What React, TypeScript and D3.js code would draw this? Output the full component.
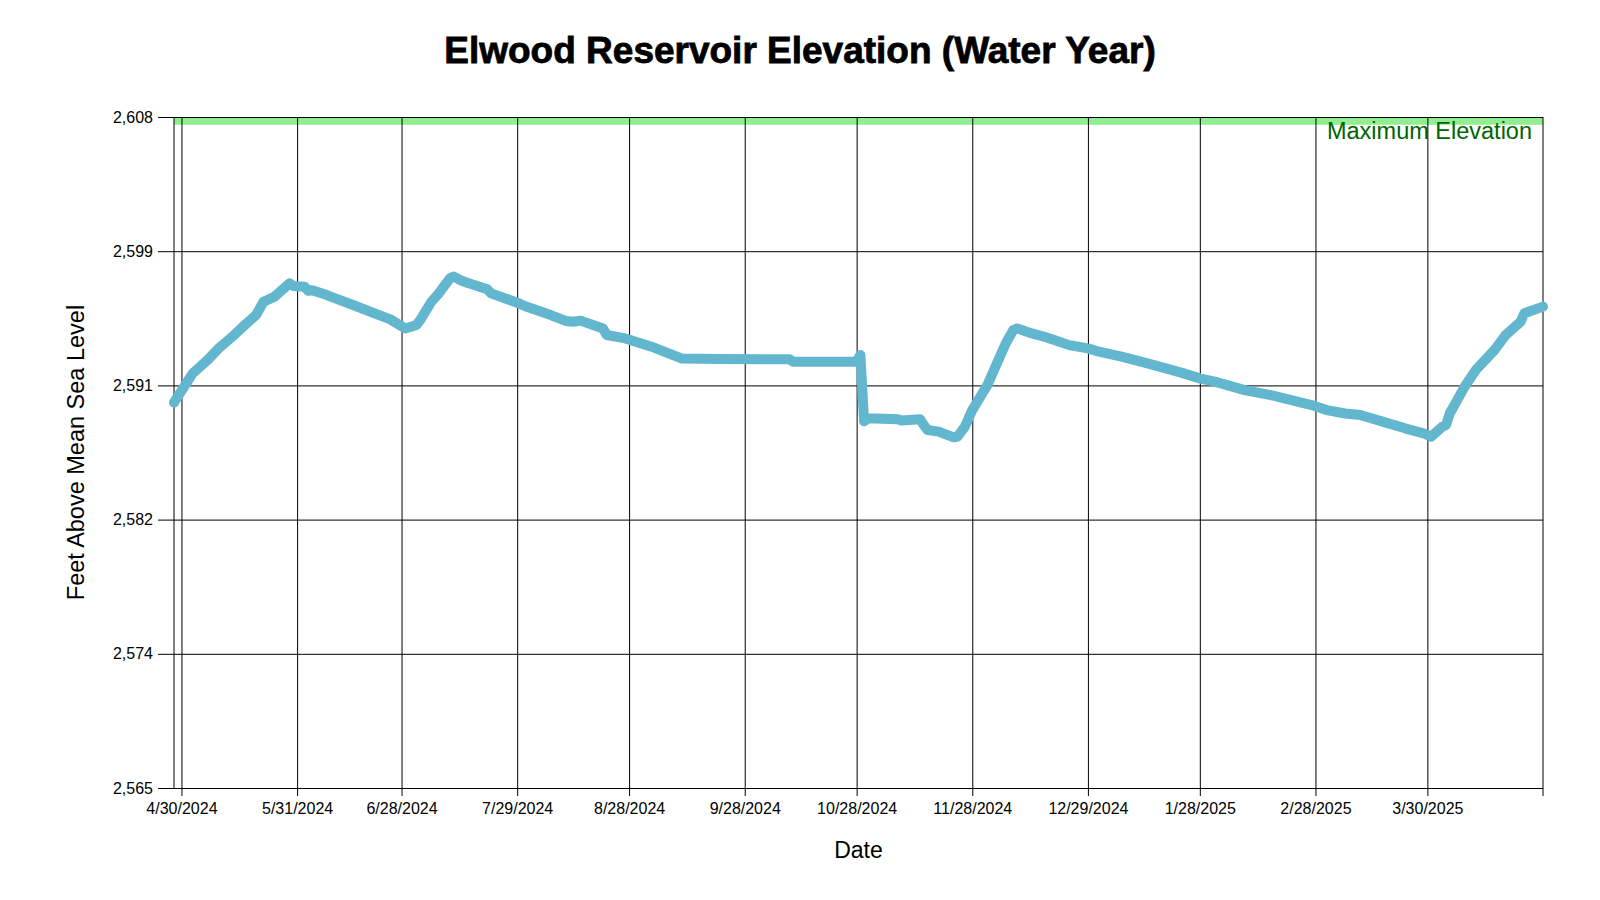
import React, { useEffect, useRef } from 'react'
import * as d3 from 'd3'

// daily reservoir readings (feet above mean sea level)
const dates = [
  '2024-04-28', '2024-05-03', '2024-05-07', '2024-05-10', '2024-05-14', '2024-05-17',
  '2024-05-20', '2024-05-22', '2024-05-25', '2024-05-29', '2024-05-30', '2024-06-02',
  '2024-06-03', '2024-06-04', '2024-06-08', '2024-06-09', '2024-06-15', '2024-06-22',
  '2024-06-25', '2024-06-29', '2024-07-02', '2024-07-03', '2024-07-06', '2024-07-08',
  '2024-07-11', '2024-07-12', '2024-07-14', '2024-07-16', '2024-07-21', '2024-07-22',
  '2024-07-29', '2024-07-31', '2024-08-07', '2024-08-11', '2024-08-13', '2024-08-15',
  '2024-08-21', '2024-08-22', '2024-08-27', '2024-09-03', '2024-09-11', '2024-09-21',
  '2024-10-10', '2024-10-11', '2024-10-28', '2024-10-29', '2024-10-30', '2024-10-31',
  '2024-11-08', '2024-11-09', '2024-11-14', '2024-11-15', '2024-11-16', '2024-11-19',
  '2024-11-23', '2024-11-24', '2024-11-26', '2024-11-28', '2024-12-02', '2024-12-05',
  '2024-12-07', '2024-12-09', '2024-12-10', '2024-12-14', '2024-12-18', '2024-12-24',
  '2024-12-29', '2025-01-01', '2025-01-07', '2025-01-14', '2025-01-23', '2025-01-28',
  '2025-02-01', '2025-02-09', '2025-02-16', '2025-02-27', '2025-03-03', '2025-03-08',
  '2025-03-12', '2025-03-18', '2025-03-24', '2025-03-29', '2025-03-31', '2025-04-03',
  '2025-04-04', '2025-04-05', '2025-04-07', '2025-04-09', '2025-04-12', '2025-04-17',
  '2025-04-20', '2025-04-24', '2025-04-25', '2025-04-30',
]
const elevations = [
  2589.7, 2591.57, 2592.43, 2593.18, 2594.0, 2594.67,
  2595.31, 2596.16, 2596.49, 2597.34, 2597.17, 2597.12,
  2596.87, 2596.9, 2596.59, 2596.49, 2595.95, 2595.3,
  2595.03, 2594.45, 2594.67, 2594.99, 2596.16, 2596.7,
  2597.66, 2597.77, 2597.52, 2597.34, 2596.96, 2596.7,
  2596.1, 2595.89, 2595.31, 2594.93, 2594.88, 2594.95,
  2594.45, 2594.03, 2593.81, 2593.28, 2592.53, 2592.49,
  2592.47, 2592.32, 2592.32, 2592.75, 2588.5, 2588.69,
  2588.63, 2588.55, 2588.63, 2588.26, 2587.94, 2587.84,
  2587.47, 2587.5, 2588.15, 2589.22, 2590.8, 2592.43,
  2593.5, 2594.35, 2594.45, 2594.13, 2593.87, 2593.38,
  2593.17, 2592.96, 2592.64, 2592.21, 2591.62, 2591.25,
  2591.04, 2590.5, 2590.18, 2589.54, 2589.22, 2589.0,
  2588.9, 2588.48, 2588.05, 2587.73, 2587.51, 2588.15,
  2588.26, 2589.0, 2589.86, 2590.72, 2591.79, 2593.07,
  2594.03, 2594.88, 2595.42, 2595.85,
]

const xTickDates = [
  '2024-04-30', '2024-05-31', '2024-06-28', '2024-07-29', '2024-08-28', '2024-09-28',
  '2024-10-28', '2024-11-28', '2024-12-29', '2025-01-28', '2025-02-28', '2025-03-30',
]
const yTickValues = [2565, 2573.6, 2582.2, 2590.8, 2599.4, 2608]
const yDomain = [2565, 2608]
const maxElevation = 2608
const maxBandDepth = 0.5

const font = "'Liberation Sans', Arial, sans-serif"

const App = () => {
  const refSvg = useRef(null)

  useEffect(() => {
    drawChart()
  }, [])

  const drawChart = () => {
    const left = 174
    const top = 117
    const width = 1369
    const height = 671

    const parse = d3.timeParse('%Y-%m-%d')
    const data = dates.map((d, i) => ({ date: parse(d), value: elevations[i] }))

    const svg = d3.select(refSvg.current)
    svg.selectAll('*').remove()

    const xScale = d3
      .scaleTime()
      .domain(d3.extent(data, (d) => d.date))
      .range([left, left + width])
    const yScale = d3.scaleLinear().domain(yDomain).range([top + height, top])

    // maximum elevation band
    svg
      .append('rect')
      .attr('x', left)
      .attr('y', yScale(maxElevation))
      .attr('width', width)
      .attr('height', yScale(maxElevation - maxBandDepth) - yScale(maxElevation))
      .attr('fill', '#90ee90')

    svg
      .append('text')
      .attr('x', left + width - 11)
      .attr('y', yScale(maxElevation) + 22)
      .attr('text-anchor', 'end')
      .attr('fill', '#006400')
      .style('font-family', font)
      .style('font-size', '23.5px')
      .text('Maximum Elevation')

    // y gridlines + labels
    const yAxis = d3
      .axisLeft(yScale)
      .tickValues(yTickValues)
      .tickFormat(d3.format(',.0f'))
      .tickSizeInner(-(width + 16))
      .tickSizeOuter(0)
      .tickPadding(5)
    const gy = svg.append('g').attr('transform', `translate(${left - 16},0)`).call(yAxis)
    gy.select('.domain').remove()
    gy.selectAll('line').attr('stroke', '#000')
    gy.selectAll('text').style('font-family', font).style('font-size', '16px').attr('fill', '#000')

    // x gridlines + labels
    const xAxis = d3
      .axisBottom(xScale)
      .tickValues(xTickDates.map((d) => parse(d)))
      .tickFormat(d3.timeFormat('%-m/%-d/%Y'))
      .tickSizeInner(-(height + 8))
      .tickSizeOuter(0)
      .tickPadding(7)
    const gx = svg.append('g').attr('transform', `translate(0,${top + height + 8})`).call(xAxis)
    gx.select('.domain').remove()
    gx.selectAll('line').attr('stroke', '#000')
    gx.selectAll('text').style('font-family', font).style('font-size', '16px').attr('fill', '#000')

    // frame sides
    svg
      .append('line')
      .attr('x1', left)
      .attr('x2', left)
      .attr('y1', top)
      .attr('y2', top + height)
      .attr('stroke', '#000')
    svg
      .append('line')
      .attr('x1', left + width)
      .attr('x2', left + width)
      .attr('y1', top)
      .attr('y2', top + height + 8)
      .attr('stroke', '#000')

    const valueline = d3
      .line()
      .x((d) => xScale(d.date))
      .y((d) => yScale(d.value))

    svg
      .append('path')
      .datum(data)
      .attr('d', (d) => valueline(d))
      .style('fill', 'none')
      .style('stroke', '#62b6cd')
      .style('stroke-width', 10)
      .style('stroke-linejoin', 'round')
      .style('stroke-linecap', 'round')

    // titles
    svg
      .append('text')
      .attr('x', 800)
      .attr('y', 63)
      .attr('text-anchor', 'middle')
      .style('font-family', font)
      .style('font-weight', 'bold')
      .style('font-size', '37px')
      .style('stroke', '#000')
      .style('stroke-width', 0.8)
      .text('Elwood Reservoir Elevation (Water Year)')

    svg
      .append('text')
      .attr('x', left + width / 2)
      .attr('y', 858)
      .attr('text-anchor', 'middle')
      .style('font-family', font)
      .style('font-size', '23px')
      .text('Date')

    svg
      .append('text')
      .attr('transform', `translate(84,${top + height / 2}) rotate(-90)`)
      .attr('text-anchor', 'middle')
      .style('font-family', font)
      .style('font-size', '23.5px')
      .text('Feet Above Mean Sea Level')
  }

  return (
    <svg
      ref={refSvg}
      width={1600}
      height={900}
      style={{ position: 'absolute', left: 0, top: 0, background: '#fff' }}
    ></svg>
  )
}

export default App
